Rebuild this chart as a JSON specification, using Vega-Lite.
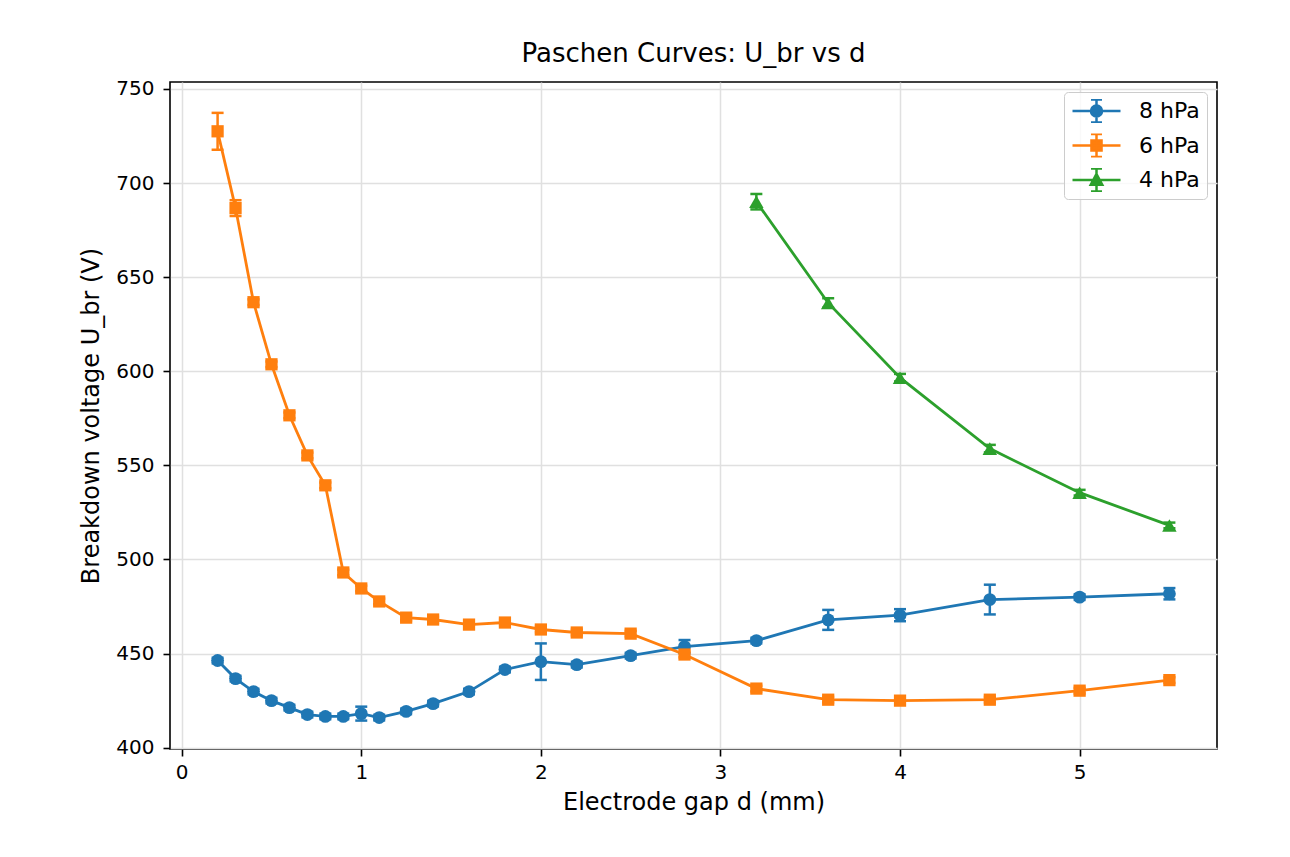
{
  "$schema": "https://vega.github.io/schema/vega-lite/v6.json",
  "width": 1047,
  "height": 667,
  "autosize": {"type": "none"},
  "padding": {"left": 170, "top": 82, "right": 73, "bottom": 108},
  "background": "white",
  "title": {"text": "Paschen Curves: U_br vs d", "fontSize": 26, "font": "DejaVu Sans", "fontWeight": "normal", "color": "black", "offset": 12, "anchor": "middle"},
  "data": {"values": [
    {"p": "8 hPa", "d": 0.2, "U": 446.3, "err": 1.5},
    {"p": "8 hPa", "d": 0.3, "U": 436.7, "err": 1.5},
    {"p": "8 hPa", "d": 0.4, "U": 429.8, "err": 1.5},
    {"p": "8 hPa", "d": 0.5, "U": 425.0, "err": 1.5},
    {"p": "8 hPa", "d": 0.6, "U": 421.3, "err": 1.5},
    {"p": "8 hPa", "d": 0.7, "U": 417.6, "err": 1.5},
    {"p": "8 hPa", "d": 0.8, "U": 416.6, "err": 1.5},
    {"p": "8 hPa", "d": 0.9, "U": 416.6, "err": 1.5},
    {"p": "8 hPa", "d": 1.0, "U": 418.1, "err": 3.7},
    {"p": "8 hPa", "d": 1.1, "U": 416.0, "err": 1.5},
    {"p": "8 hPa", "d": 1.25, "U": 419.3, "err": 1.5},
    {"p": "8 hPa", "d": 1.4, "U": 423.4, "err": 1.5},
    {"p": "8 hPa", "d": 1.6, "U": 429.8, "err": 1.5},
    {"p": "8 hPa", "d": 1.8, "U": 441.5, "err": 1.5},
    {"p": "8 hPa", "d": 2.0, "U": 445.7, "err": 9.7},
    {"p": "8 hPa", "d": 2.2, "U": 444.1, "err": 1.5},
    {"p": "8 hPa", "d": 2.5, "U": 448.9, "err": 1.5},
    {"p": "8 hPa", "d": 2.8, "U": 453.7, "err": 3.5},
    {"p": "8 hPa", "d": 3.2, "U": 456.9, "err": 1.5},
    {"p": "8 hPa", "d": 3.6, "U": 467.9, "err": 5.3},
    {"p": "8 hPa", "d": 4.0, "U": 470.4, "err": 3.2},
    {"p": "8 hPa", "d": 4.5, "U": 478.7, "err": 7.9},
    {"p": "8 hPa", "d": 5.0, "U": 480.0, "err": 1.5},
    {"p": "8 hPa", "d": 5.5, "U": 481.8, "err": 3.0},
    {"p": "6 hPa", "d": 0.2, "U": 727.5, "err": 9.8},
    {"p": "6 hPa", "d": 0.3, "U": 686.7, "err": 4.2},
    {"p": "6 hPa", "d": 0.4, "U": 636.7, "err": 1.5},
    {"p": "6 hPa", "d": 0.5, "U": 603.7, "err": 1.5},
    {"p": "6 hPa", "d": 0.6, "U": 576.6, "err": 1.5},
    {"p": "6 hPa", "d": 0.7, "U": 555.3, "err": 1.5},
    {"p": "6 hPa", "d": 0.8, "U": 539.4, "err": 1.5},
    {"p": "6 hPa", "d": 0.9, "U": 493.1, "err": 1.5},
    {"p": "6 hPa", "d": 1.0, "U": 484.6, "err": 1.5},
    {"p": "6 hPa", "d": 1.1, "U": 477.7, "err": 1.5},
    {"p": "6 hPa", "d": 1.25, "U": 469.1, "err": 1.5},
    {"p": "6 hPa", "d": 1.4, "U": 468.1, "err": 1.5},
    {"p": "6 hPa", "d": 1.6, "U": 465.4, "err": 1.5},
    {"p": "6 hPa", "d": 1.8, "U": 466.5, "err": 1.5},
    {"p": "6 hPa", "d": 2.0, "U": 462.8, "err": 1.5},
    {"p": "6 hPa", "d": 2.2, "U": 461.2, "err": 1.5},
    {"p": "6 hPa", "d": 2.5, "U": 460.6, "err": 1.5},
    {"p": "6 hPa", "d": 2.8, "U": 449.5, "err": 1.5},
    {"p": "6 hPa", "d": 3.2, "U": 431.4, "err": 1.5},
    {"p": "6 hPa", "d": 3.6, "U": 425.5, "err": 1.5},
    {"p": "6 hPa", "d": 4.0, "U": 425.0, "err": 1.5},
    {"p": "6 hPa", "d": 4.5, "U": 425.5, "err": 1.5},
    {"p": "6 hPa", "d": 5.0, "U": 430.3, "err": 1.5},
    {"p": "6 hPa", "d": 5.5, "U": 435.9, "err": 1.5},
    {"p": "4 hPa", "d": 3.2, "U": 690.1, "err": 4.1},
    {"p": "4 hPa", "d": 3.6, "U": 636.3, "err": 2.5},
    {"p": "4 hPa", "d": 4.0, "U": 596.6, "err": 2.0},
    {"p": "4 hPa", "d": 4.5, "U": 558.9, "err": 2.0},
    {"p": "4 hPa", "d": 5.0, "U": 535.5, "err": 1.5},
    {"p": "4 hPa", "d": 5.5, "U": 518.1, "err": 1.5}
  ]},
  "encoding": {
    "x": {"field": "d", "type": "quantitative", "title": "Electrode gap d (mm)",
      "scale": {"domain": [-0.065, 5.765], "nice": false, "zero": false},
      "axis": {"values": [0, 1, 2, 3, 4, 5], "labelPadding": 6, "titlePadding": 8, "grid": true}},
    "y": {"field": "U", "type": "quantitative", "title": "Breakdown voltage U_br (V)",
        "scale": {"domain": [399.3, 753.7], "nice": false, "zero": false},
        "axis": {"values": [400, 450, 500, 550, 600, 650, 700, 750], "labelPadding": 9, "titlePadding": 12, "grid": true}},
    "color": {"field": "p", "type": "nominal",
      "scale": {"domain": ["8 hPa", "6 hPa", "4 hPa"], "range": ["#1f77b4", "#ff7f0e", "#2ca02c"]},
      "legend": {"title": null, "symbolType": "M-1,0H1", 
        "encode": {"symbols": {"update": {
          "shape": {"signal": "datum.value === '8 hPa' ? 'M-1,0H1M0,-0.48V0.48M-0.23,-0.48H0.23M-0.23,0.48H0.23M-0.23,0A0.23,0.23 0 1,0 0.23,0A0.23,0.23 0 1,0 -0.23,0Z' : datum.value === '6 hPa' ? 'M-1,0H1M0,-0.48V0.48M-0.23,-0.48H0.23M-0.23,0.48H0.23M-0.21,-0.21H0.21V0.21H-0.21Z' : 'M-1,0H1M0,-0.48V0.48M-0.23,-0.48H0.23M-0.23,0.48H0.23M0,-0.25L0.24,0.2H-0.24Z'"},
          "size": {"value": 2304},
          "fill": {"scale": "color", "field": "value"},
          "stroke": {"scale": "color", "field": "value"},
          "strokeWidth": {"value": 2.5},
          "opacity": {"value": 1},
          "fillOpacity": {"value": 1},
          "strokeOpacity": {"value": 1}
        }}}}}
  },
  "layer": [
    {"mark": {"type": "line", "strokeWidth": 2.8}},
    {"mark": {"type": "errorbar", "opacity": 1, "ticks": {"size": 12, "thickness": 2.5, "opacity": 1}, "rule": {"strokeWidth": 2.5, "opacity": 1}},
     "encoding": {"yError": {"field": "err"}}},
    {"transform": [{"filter": "datum.p === '8 hPa'"}],
     "mark": {"type": "point", "filled": true, "size": 165, "opacity": 1, "shape": "circle"}},
    {"transform": [{"filter": "datum.p === '6 hPa'"}],
     "mark": {"type": "point", "filled": true, "size": 150, "opacity": 1, "shape": "square"}},
    {"transform": [{"filter": "datum.p === '4 hPa'"}],
     "mark": {"type": "point", "filled": true, "size": 210, "opacity": 1, "shape": "triangle-up"}}
  ],
  "config": {
    "view": {"stroke": "black", "strokeWidth": 1.6},
    "axis": {"labelFont": "DejaVu Sans", "labelFontSize": 20, "labelColor": "black", "titleFont": "DejaVu Sans", "titleFontSize": 24, "titleFontWeight": "normal", "titleColor": "black", "tickColor": "black", "tickWidth": 1.6, "tickSize": 7, "domain": false, "gridColor": "#e0e0e0", "gridWidth": 1.5},
    "legend": {
      "orient": "top-right", "offset": 10, "padding": 7,
      "fillColor": "rgba(255,255,255,0.8)", "strokeColor": "#cccccc", "cornerRadius": 4,
      "labelFont": "DejaVu Sans", "labelFontSize": 22, "labelColor": "black",
      "symbolSize": 2304, "clipHeight": 24, "rowPadding": 10.5, "labelOffset": 17
    }
  }
}
